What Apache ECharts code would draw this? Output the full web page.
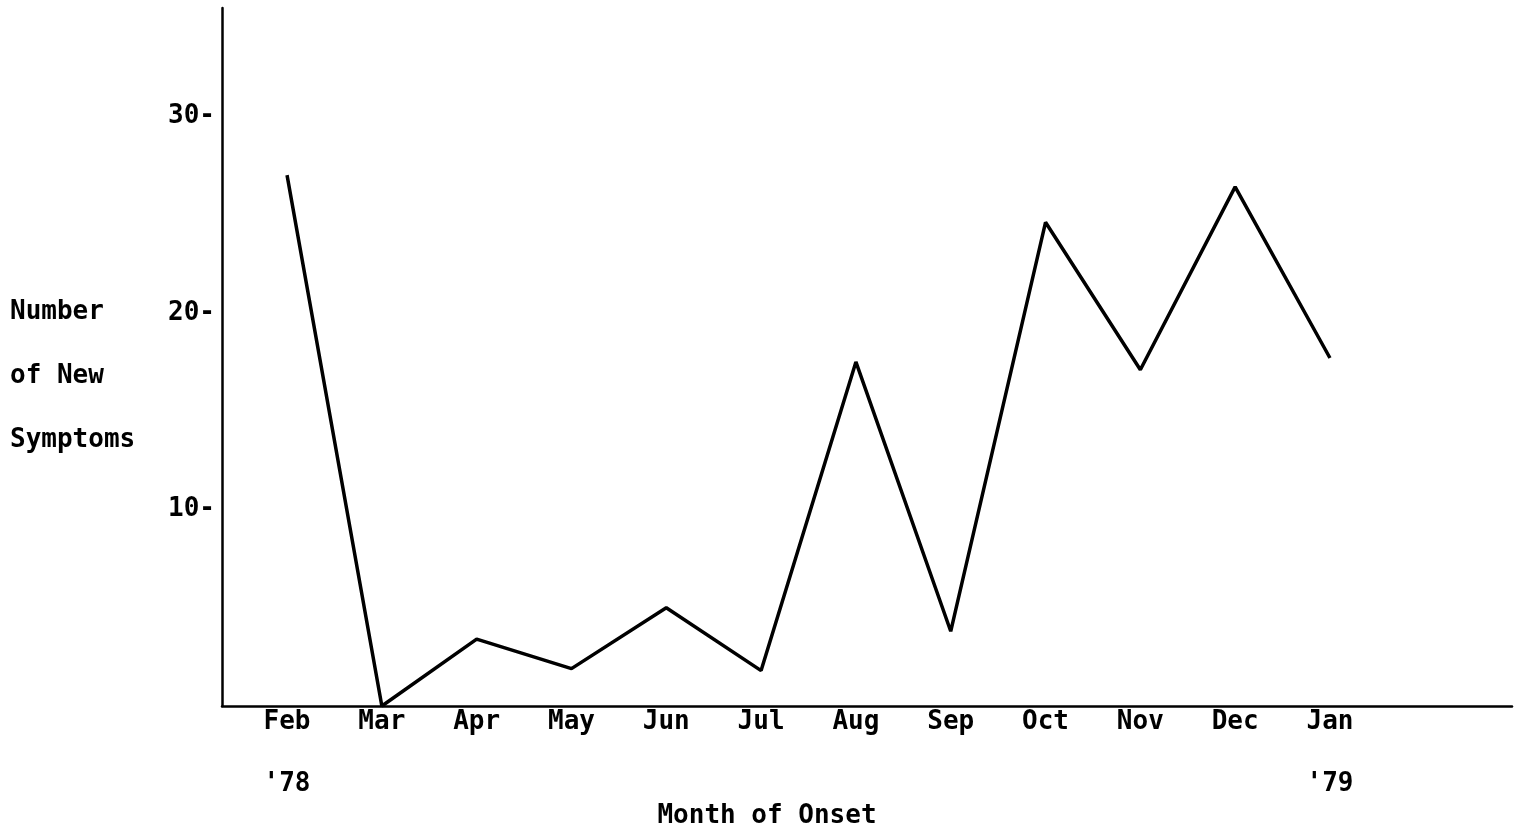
<!DOCTYPE html>
<html>
<head>
<meta charset="utf-8">
<script src="https://cdn.jsdelivr.net/npm/echarts@6/dist/echarts.min.js"></script>
<style>
  html, body { margin: 0; padding: 0; background: #fff; }
  #chart { width: 1524px; height: 834px; }
</style>
</head>
<body>
<div id="chart"></div>
<script>
// monthly counts
const months = ["Feb", "Mar", "Apr", "May", "Jun", "Jul", "Aug", "Sep", "Oct", "Nov", "Dec", "Jan"];
const yearLabels = ["'78", "", "", "", "", "", "", "", "", "", "", "'79"];
const newSymptoms = [27.0, 0, 3.4, 1.9, 5.0, 1.8, 17.5, 3.8, 24.6, 17.1, 26.4, 17.7];
const yTicks = [10, 20, 30];

const FONT = "DejaVu Sans Mono";
const INK = "#000";

const chart = echarts.init(document.getElementById("chart"));

const monthIndex = months.map((m, i) => i);

const option = {
  animation: false,
  backgroundColor: "#fff",
  grid: { left: 222, right: 12, top: 8, bottom: 128 },
  title: [
    {
      text: "Month of Onset",
      left: 767,
      top: 803,
      padding: 0,
      textAlign: "center",
      textStyle: { fontFamily: FONT, fontSize: 26, fontWeight: "bold", color: INK },
    },
    {
      text: "Number\nof New\nSymptoms",
      left: 10,
      top: 280,
      padding: 0,
      textStyle: { fontFamily: FONT, fontSize: 26, fontWeight: "bold", color: INK, lineHeight: 64 },
    },
  ],
  xAxis: {
    type: "value",
    min: -0.686,
    max: 12.92,
    splitLine: { show: false },
    axisLine: { show: true, onZero: false, lineStyle: { color: INK, width: 2.5 } },
    axisTick: { show: false },
    axisLabel: {
      customValues: monthIndex,
      margin: 1,
      color: INK,
      fontFamily: FONT,
      fontSize: 26,
      fontWeight: "bold",
      lineHeight: 31,
      formatter: (v) => {
        const i = Math.round(v);
        return yearLabels[i] ? months[i] + "\n\n" + yearLabels[i] : months[i];
      },
    },
  },
  yAxis: {
    type: "value",
    min: 0,
    max: 35.5,
    splitLine: { show: false },
    axisLine: { show: true, onZero: false, lineStyle: { color: INK, width: 2.5 } },
    axisTick: { show: false },
    axisLabel: {
      customValues: yTicks,
      margin: 7,
      color: INK,
      fontFamily: FONT,
      fontSize: 26,
      fontWeight: "bold",
      formatter: (v) => v + "-",
    },
  },
  series: [
    {
      name: "New Symptoms",
      type: "line",
      data: newSymptoms.map((v, i) => [i, v]),
      symbol: "none",
      lineStyle: { color: INK, width: 3.5 },
    },
  ],
};

chart.setOption(option);
</script>
</body>
</html>
